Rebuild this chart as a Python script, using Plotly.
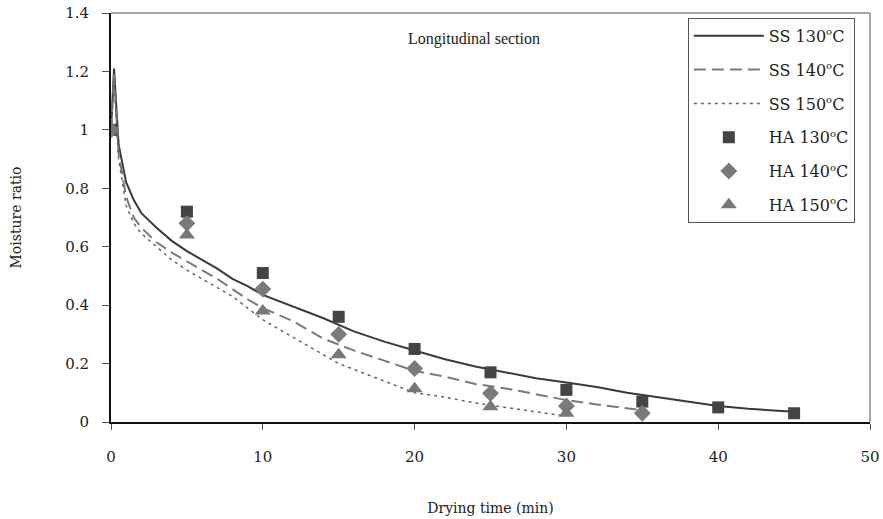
import plotly.graph_objects as go

# ---- data ----
ss130_t = [0, 0.2, 0.5, 1, 1.5, 2, 3, 4, 5, 6, 7, 8, 9, 10, 12, 14, 16, 18, 20, 22, 24, 26, 28, 30, 32, 34, 36, 38, 40, 42, 44, 45]
ss130_y = [1.0, 1.21, 0.95, 0.82, 0.76, 0.715, 0.665, 0.62, 0.585, 0.555, 0.525, 0.49, 0.465, 0.435, 0.395, 0.355, 0.31, 0.275, 0.245, 0.215, 0.19, 0.17, 0.15, 0.135, 0.12, 0.1, 0.085, 0.07, 0.055, 0.045, 0.038, 0.035]

ss140_t = [0, 0.2, 0.5, 1, 1.5, 2, 3, 4, 5, 6, 7, 8, 9, 10, 12, 14, 15, 16, 18, 20, 22, 24, 26, 28, 30, 32, 34, 35]
ss140_y = [1.0, 1.19, 0.92, 0.77, 0.70, 0.665, 0.615, 0.58, 0.55, 0.52, 0.49, 0.455, 0.42, 0.39, 0.345, 0.285, 0.265, 0.245, 0.21, 0.175, 0.155, 0.13, 0.115, 0.095, 0.075, 0.06, 0.045, 0.04]

ss150_t = [0, 0.2, 0.5, 1, 1.5, 2, 3, 4, 5, 6, 7, 8, 9, 10, 12, 14, 15, 16, 18, 20, 22, 24, 26, 28, 30]
ss150_y = [1.0, 1.17, 0.90, 0.74, 0.68, 0.645, 0.60, 0.555, 0.52, 0.49, 0.46, 0.43, 0.39, 0.35, 0.29, 0.23, 0.20, 0.18, 0.14, 0.10, 0.085, 0.065, 0.05, 0.035, 0.02]

ha130_t = [0, 5, 10, 15, 20, 25, 30, 35, 40, 45]
ha130_y = [1.0, 0.72, 0.51, 0.36, 0.25, 0.17, 0.11, 0.07, 0.05, 0.03]

ha140_t = [0, 5, 10, 15, 20, 25, 30, 35]
ha140_y = [1.0, 0.68, 0.455, 0.30, 0.183, 0.098, 0.055, 0.03]

ha150_t = [0, 5, 10, 15, 20, 25, 30]
ha150_y = [1.0, 0.64, 0.38, 0.23, 0.114, 0.052, 0.03]

x_ticks = [0, 10, 20, 30, 40, 50]
y_ticks = [0, 0.2, 0.4, 0.6, 0.8, 1.0, 1.2, 1.4]
y_tick_text = ["0", "0.2", "0.4", "0.6", "0.8", "1", "1.2", "1.4"]

SERIF = "DejaVu Serif"
SUP = "<sup><span style='font-size:10px'>o</span></sup>"

fig = go.Figure()
fig.add_trace(go.Scatter(x=ss130_t, y=ss130_y, mode="lines", name="SS 130" + SUP + "C",
                         line=dict(color="#3a3a3a", width=2), legendgroup="a"))
fig.add_trace(go.Scatter(x=ss140_t, y=ss140_y, mode="lines", name="SS 140" + SUP + "C",
                         line=dict(color="#7a7a7a", width=2, dash="12px,6px"), legendgroup="b"))
fig.add_trace(go.Scatter(x=ss150_t, y=ss150_y, mode="lines", name="SS 150" + SUP + "C",
                         line=dict(color="#666666", width=1.5, dash="3px,4px"), legendgroup="c"))
fig.add_trace(go.Scatter(x=ha130_t, y=ha130_y, mode="markers", name="HA 130" + SUP + "C",
                         marker=dict(symbol="square", size=12, color="#444444"), legendgroup="d"))
fig.add_trace(go.Scatter(x=ha140_t, y=ha140_y, mode="markers", name="HA 140" + SUP + "C",
                         marker=dict(symbol="diamond", size=13, color="#7a7a7a"), legendgroup="e"))
fig.add_trace(go.Scatter(x=ha150_t, y=ha150_y, mode="markers", name="HA 150" + SUP + "C",
                         marker=dict(symbol="triangle-up", size=14, color="#777777"), legendgroup="f"))

fig.add_annotation(x=23.9, y=1.31, xref="x", yref="y", text="Longitudinal section",
                   showarrow=False, font=dict(family="Liberation Serif", size=16, color="#222"))

# grey top/right frame
fig.add_shape(type="line", xref="paper", yref="paper", x0=0, x1=1, y0=1, y1=1,
              line=dict(color="#888888", width=1.5))
fig.add_shape(type="line", xref="paper", yref="paper", x0=1, x1=1, y0=0, y1=1,
              line=dict(color="#888888", width=1.5))

fig.update_layout(
    width=883, height=519,
    margin=dict(l=111, r=13, t=13, b=97),
    paper_bgcolor="white", plot_bgcolor="white",
    font=dict(family=SERIF, size=14, color="#222"),
    showlegend=True,
    legend=dict(x=0.76, y=0.988, xanchor="left", yanchor="top",
                bordercolor="#555555", borderwidth=1, bgcolor="white",
                font=dict(family=SERIF, size=16, color="#222"),
                tracegroupgap=10, itemwidth=70),
    xaxis=dict(range=[0, 50], tickvals=x_ticks, showgrid=False, zeroline=False,
               showline=True, linecolor="#111", linewidth=2, automargin=False,
               ticks="outside", ticklen=6, tickcolor="#555", tickwidth=1,
               ticklabelstandoff=14,
               tickfont=dict(family=SERIF, size=15, color="#222"),
               title=dict(text="Drying time (min)", font=dict(family=SERIF, size=14, color="#222"), standoff=38)),
    yaxis=dict(range=[0, 1.4], tickvals=y_ticks, ticktext=y_tick_text, showgrid=False, zeroline=False,
               showline=True, linecolor="#111", linewidth=2, automargin=False,
               ticks="outside", ticklen=7, tickcolor="#555", tickwidth=1,
               ticklabelstandoff=10,
               tickfont=dict(family=SERIF, size=15, color="#222"),
               title=dict(text="Moisture ratio", font=dict(family=SERIF, size=14, color="#222"), standoff=40)),
)

# remove the default 8px page margin so the figure sits at the window's corner
fig.write_html("out.html", config={"displayModeBar": False},
               post_script="document.body.style.margin='0';")
